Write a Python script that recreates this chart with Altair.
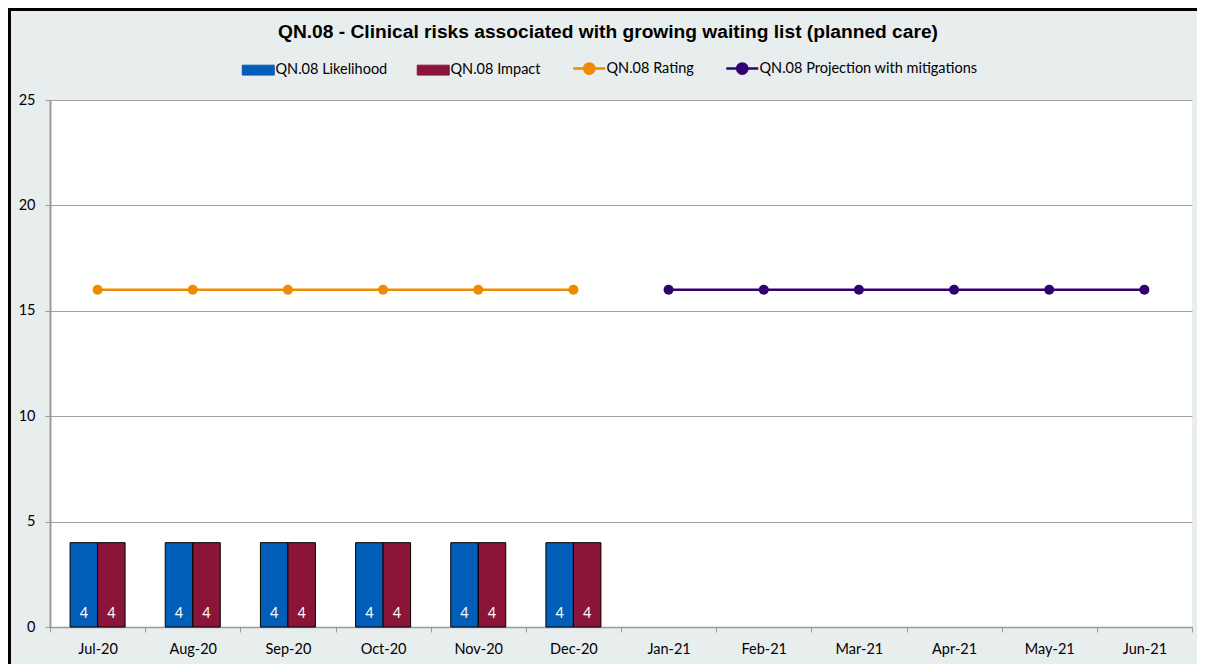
import altair as alt
import pandas as pd

months = ["Jul-20", "Aug-20", "Sep-20", "Oct-20", "Nov-20", "Dec-20",
          "Jan-21", "Feb-21", "Mar-21", "Apr-21", "May-21", "Jun-21"]
series_names = ["QN.08 Likelihood", "QN.08 Impact", "QN.08 Rating",
                "QN.08 Projection with mitigations"]
series_colors = ["#005EB8", "#8A1538", "#ED8B00", "#330072"]

bar_months = ["Jul-20", "Aug-20", "Sep-20", "Oct-20", "Nov-20", "Dec-20"]
likelihood = [4, 4, 4, 4, 4, 4]
impact = [4, 4, 4, 4, 4, 4]

rating_months = ["Jul-20", "Aug-20", "Sep-20", "Oct-20", "Nov-20", "Dec-20"]
rating = [16, 16, 16, 16, 16, 16]

projection_months = ["Jan-21", "Feb-21", "Mar-21", "Apr-21", "May-21", "Jun-21"]
projection = [16, 16, 16, 16, 16, 16]

y_ticks = [0, 5, 10, 15, 20, 25]

bar_rows = []
for m, lk, im in zip(bar_months, likelihood, impact):
    bar_rows.append({"month": m, "series": series_names[0], "value": lk})
    bar_rows.append({"month": m, "series": series_names[1], "value": im})
bar_df = pd.DataFrame(bar_rows)

line_rows = []
for m, v in zip(rating_months, rating):
    line_rows.append({"month": m, "series": series_names[2], "value": v})
for m, v in zip(projection_months, projection):
    line_rows.append({"month": m, "series": series_names[3], "value": v})
line_df = pd.DataFrame(line_rows)

FONT = "Lato"
FS = 14.5

x_enc = alt.X(
    "month:N",
    sort=months,
    scale=alt.Scale(domain=months, paddingInner=0, paddingOuter=0),
    axis=alt.Axis(
        title=None, labelAngle=0, tickBand="extent", grid=False,
        domainColor="#9A9A9A", domainWidth=1.5, tickColor="#9A9A9A", tickSize=5,
        labelFont=FONT, labelFontSize=FS, labelColor="#000000", labelPadding=10,
    ),
)
y_enc = alt.Y(
    "value:Q",
    scale=alt.Scale(domain=[0, 25], nice=False),
    axis=alt.Axis(
        title=None, values=y_ticks, grid=True, gridColor="#A0A0A0", gridWidth=1,
        domainColor="#9A9A9A", domainWidth=2, tickColor="#9A9A9A", tickSize=5,
        labelFont=FONT, labelFontSize=FS, labelColor="#000000", labelPadding=10,
    ),
)

is_bar = "indexof(['QN.08 Likelihood','QN.08 Impact'], datum.value) >= 0"
rect_path = "M-1,-0.31H1V0.31H-1Z"
line_path = "M-1,0H1M0.32,0A0.32,0.32,0,1,1,-0.32,0A0.32,0.32,0,1,1,0.32,0Z"
fill_expr = ("datum.value == 'QN.08 Likelihood' ? '#005EB8' : "
             "datum.value == 'QN.08 Impact' ? '#8A1538' : "
             "datum.value == 'QN.08 Rating' ? '#ED8B00' : '#330072'")
stroke_expr = ("datum.value == 'QN.08 Rating' ? '#ED8B00' : "
               "datum.value == 'QN.08 Projection with mitigations' ? '#330072' : '#000000'")

color_enc = alt.Color(
    "series:N",
    scale=alt.Scale(domain=series_names, range=series_colors),
    legend=alt.Legend(
        title=None, orient="none", direction="horizontal", columns=4,
        legendX=201, legendY=-39,
        symbolType=alt.ExprRef(expr=f"{is_bar} ? '{rect_path}' : '{line_path}'"),
        symbolFillColor=alt.ExprRef(expr=fill_expr),
        symbolStrokeColor=alt.ExprRef(expr=stroke_expr),
        symbolStrokeWidth=alt.ExprRef(expr=f"{is_bar} ? 1 : 2.5"),
        symbolSize=1024, symbolOpacity=1,
        labelFont=FONT, labelFontSize=FS, labelColor="#000000", labelOffset=10,
        labelLimit=400, columnPadding=27, padding=0,
    ),
)

offset_scale = alt.Scale(domain=series_names[:2], paddingInner=0, paddingOuter=0.73)

bars = alt.Chart(bar_df).mark_bar(stroke="#000000", strokeWidth=1, opacity=1).encode(
    x=x_enc,
    xOffset=alt.XOffset("series:N", scale=offset_scale),
    y=y_enc,
    color=color_enc,
)

labels = alt.Chart(bar_df).mark_text(dy=-13, color="white", font=FONT, fontSize=FS).encode(
    x=alt.X("month:N", sort=months),
    xOffset=alt.XOffset("series:N", scale=offset_scale),
    y=alt.datum(0),
    text=alt.Text("value:Q"),
)

lines = alt.Chart(line_df).mark_line(strokeWidth=2.5).encode(
    x=alt.X("month:N", sort=months),
    y=alt.Y("value:Q"),
    color=alt.Color("series:N"),
    detail="series:N",
)

points = alt.Chart(line_df).mark_point(filled=True, size=100, opacity=1).encode(
    x=alt.X("month:N", sort=months),
    y=alt.Y("value:Q"),
    color=alt.Color("series:N"),
)

# outer frame of the chart (left and top edges)
frame_left = alt.Chart(bar_df).mark_rule(color="#000000", strokeWidth=3).encode(
    x=alt.value(-40.5), y=alt.value(-92), y2=alt.value(570)
)
frame_top = alt.Chart(bar_df).mark_rule(color="#000000", strokeWidth=2.5).encode(
    x=alt.value(-42), x2=alt.value(1150), y=alt.value(-90.8)
)

chart = alt.layer(bars, labels, lines, points, frame_left, frame_top).properties(
    width=1142,
    height=527,
    padding={"left": 42, "top": 92, "right": 5, "bottom": 37},
    autosize=alt.AutoSizeParams(type="none"),
    background="#E8EDEE",
    title=alt.TitleParams(
        text="QN.08 - Clinical risks associated with growing waiting list (planned care)",
        font="Liberation Sans", fontSize=19.2, fontWeight="bold", color="#000000",
        anchor="middle", baseline="alphabetic", offset=-51, dx=-13,
    ),
).configure_view(fill="white", stroke=None)

chart.save("out.html", embed_options={"renderer": "svg", "actions": False})
